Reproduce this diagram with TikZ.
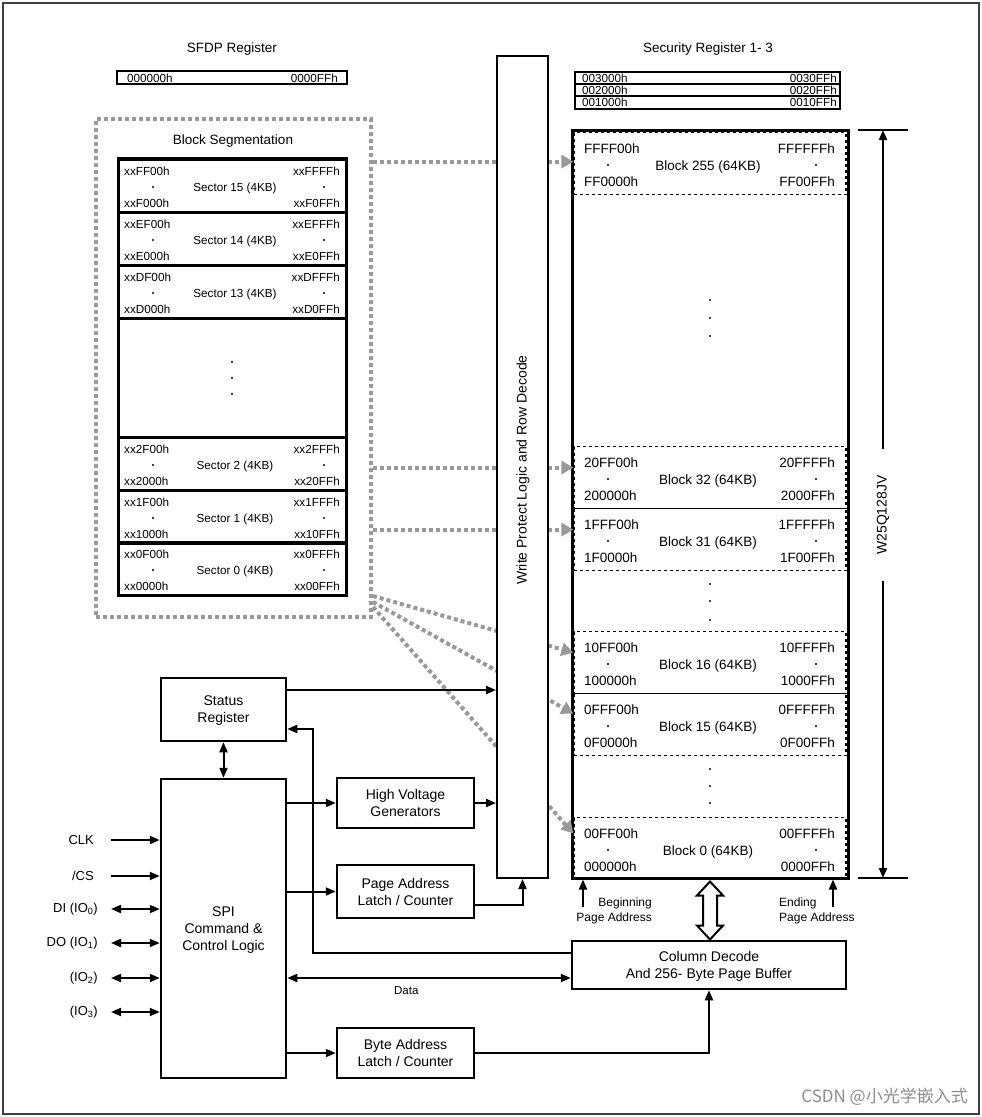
\documentclass[tikz,border=0pt]{standalone}
\usepackage{fontspec}
\setmainfont{Liberation Sans}
\newfontfamily\cjkfont{Noto Sans CJK SC}
\usetikzlibrary{arrows.meta, positioning}

\tikzset{
	unit/.style={draw, line width=2.5pt, align=center, inner sep=0pt, text depth=0pt, font=\fontsize{14}{17}\selectfont},
	row/.style={draw, line width=2.5pt, inner sep=0pt},
	blockrow/.style={draw, dashed, line width=1.2pt, inner sep=0pt},
	sig/.style={line width=2pt, -{Triangle[length=10pt,width=8pt]}},
	dsig/.style={line width=2pt, {Triangle[length=10pt,width=8pt]}-{Triangle[length=10pt,width=8pt]}},
	seg/.style={draw=black!40, line width=4pt, dash pattern=on 4pt off 3pt, inner sep=0pt},
	segarr/.style={black!40, line width=4pt, dash pattern=on 4pt off 3pt, -{Triangle[length=12pt,width=13pt]}},
	title/.style={font=\fontsize{13.5}{16}\selectfont},
	saddr/.style={font=\fontsize{11.7}{13}\selectfont, inner sep=0pt},
	baddr/.style={font=\fontsize{13.5}{15}\selectfont, inner sep=0pt},
	pin/.style={font=\fontsize{13}{15}\selectfont, anchor=east, inner sep=0pt},
}

\begin{document}
\begin{tikzpicture}[x=1pt, y=-1pt]
	\useasboundingbox (0,0) rectangle (982,1117);
	\draw[black!75, line width=1.2pt] (3,3) rectangle (979,1114);

	% Registers:
	\node[title] (sfdpt) at (232,49) {SFDP Register};
	\node[row, minimum width=230pt, minimum height=13pt] (sfdp) at (232,77.5) {};
	\node[saddr, anchor=west] (sfdplo) at (127,78) {000000h};
	\node[saddr, anchor=east] (sfdphi) at (338,78) {0000FFh};
	\node[title] (scrt) at (708,49) {Security Register 1- 3};
	\foreach \y/\lo/\hi [count=\i] in {78/003000h/0030FFh, 90/002000h/0020FFh, 102.5/001000h/0010FFh}{
		\node[row, line width=2pt, minimum width=265pt, minimum height=12.3pt] (scr\i) at (707.5,\y) {};
		\node[saddr, anchor=west] at (582,\y) {\lo};
		\node[saddr, anchor=east] at (837,\y) {\hi};
	}

	% Block segmentation:
	\node[seg, minimum width=275pt, minimum height=498pt] (blkseg) at (233.5,368) {};
	\node[title] (blksegt) at (233,141) {Block Segmentation};
	\foreach \t/\secno/\tl/\bl/\tr/\br in {158/15/xxFF00h/xxF000h/xxFFFFh/xxF0FFh, 211/14/xxEF00h/xxE000h/xxEFFFh/xxE0FFh, 264/13/xxDF00h/xxD000h/xxDFFFh/xxD0FFh, 436/2/xx2F00h/xx2000h/xx2FFFh/xx20FFh, 489/1/xx1F00h/xx1000h/xx1FFFh/xx10FFh, 541/0/xx0F00h/xx0000h/xx0FFFh/xx00FFh}{
		\node[row, minimum width=228pt, minimum height=53pt, anchor=north] (sec\secno) at (232,\t) {};
		\node[saddr, anchor=west] at (124,\t+13) {\tl};
		\node[saddr, anchor=west] at (124,\t+45) {\bl};
		\node[saddr] at (235,\t+30) {Sector \secno\ (4KB)};
		\node[saddr, anchor=east] at (340,\t+13) {\tr};
		\node[saddr, anchor=east] at (340,\t+45) {\br};
		\fill (153,\t+29) circle (1.1pt) (324,\t+29) circle (1.1pt);
	}
	\node[row, line width=3pt, minimum width=228pt, minimum height=437pt] (secstack) at (232,376.5) {};
	\foreach \y in {362,378,394} \fill (232,\y) circle (1.1pt);

	% Memory array:
	\foreach \t/\b/\tl/\bl/\tr/\br in {132/255/FFFF00h/FF0000h/FFFFFFh/FF00FFh, 446/32/20FF00h/200000h/20FFFFh/2000FFh, 508/31/1FFF00h/1F0000h/1FFFFFh/1F00FFh, 631/16/10FF00h/100000h/10FFFFh/1000FFh, 693/15/0FFF00h/0F0000h/0FFFFFh/0F00FFh, 817/0/00FF00h/000000h/00FFFFh/0000FFh}{
		\node[blockrow, minimum width=272pt, minimum height=62pt, anchor=north] (blk\b) at (710,\t) {};
		\node[baddr, anchor=west] at (584,\t+17) {\tl};
		\node[baddr, anchor=west] at (584,\t+50) {\bl};
		\node[baddr] at (708,\t+35) {Block \b\ (64KB)};
		\node[baddr, anchor=east] at (835,\t+17) {\tr};
		\node[baddr, anchor=east] at (835,\t+50) {\br};
		\fill (608,\t+33) circle (1.1pt) (816,\t+33) circle (1.1pt);
	}
	\node[row, line width=3pt, minimum width=276pt, minimum height=748pt] (mem) at (710,504) {};
	\foreach \y in {300,318,336,584,601,620,769,786,803} \fill (710,\y) circle (1.1pt);

	% Segment links:
	\foreach \b/\s in {255/2, 32/10, 31/10}
		\draw[segarr] ([yshift=\s pt]blk\b.west -| blkseg.east) -- ([yshift=\s pt]blk\b.west);
	\foreach \b/\f/\s in {16/23/10, 15/17/11, 0/12/15}
		\draw[segarr] ([yshift=\f pt]blkseg.south east) -- ([yshift=\s pt]blk\b.west);

	\node[draw, fill=white, line width=2pt, inner sep=0pt, minimum width=51pt, minimum height=822pt] (wp) at (522.5,467) {};
	\node[rotate=90, font=\fontsize{14}{16}\selectfont] (wptxt) at (523,470) {Write Protect Logic and Row Decode};

	% Logic blocks:
	\node[unit, minimum width=125pt, minimum height=63pt] (sr) at (223.5,709.5) {Status\\Register};
	\node[unit, minimum width=125pt, minimum height=299pt] (spi) at (223.5,928.5) {SPI\\Command \&\\Control Logic};
	\node[unit, minimum width=137pt, minimum height=50pt] (hv) at (405.5,803) {High Voltage\\Generators};
	\node[unit, minimum width=137pt, minimum height=53pt] (pa) at (405.5,891.5) {Page Address\\Latch / Counter};
	\node[unit, minimum width=137pt, minimum height=50pt] (ba) at (405.5,1053) {Byte Address\\Latch / Counter};
	\node[unit, minimum width=274pt, minimum height=48pt] (cd) at (709,965) {Column Decode\\And 256- Byte Page Buffer};

	\draw[sig] ([yshift=19.5pt]sr.east) -- ([yshift=19.5pt]sr.east -| wp.west);
	\draw[dsig] (sr.south) -- (spi.north);
	\draw[sig] (hv.west -| spi.east) -- (hv.west);
	\draw[sig] (hv.east) -- (hv.east -| wp.west);
	\draw[sig] (pa.west -| spi.east) -- (pa.west);
	\draw[sig] ([yshift=-13.5pt]pa.east) -| (wp.south);
	\coordinate (fb) at (313,729);
	\draw[sig] ([yshift=12pt]cd.west) -| (fb) -- (fb -| sr.east);
	\draw[dsig] ([yshift=-13pt]cd.west -| spi.east) -- node[pos=0.42, below=4pt, font=\fontsize{11.5}{13}\selectfont] (datalbl) {Data} ([yshift=-13pt]cd.west);
	\draw[sig] (ba.west -| spi.east) -- (ba.west);
	\draw[sig] (ba.east) -| (cd.south);
	\draw[line width=2pt, fill=white] ([yshift=-2pt]mem.south) -- ++(13,14) -- ++(-6,0) -- ++(0,30) -- ++(6,0) -- ++(-13,14) -- ++(-13,-14) -- ++(6,0) -- ++(0,-30) -- ++(-6,0) -- cycle;

	% Page address marks:
	\node[font=\fontsize{12}{15}\selectfont, align=right, anchor=north east, inner sep=0pt] (bpa) at (652,898) {Beginning\\Page Address};
	\node[font=\fontsize{12}{15}\selectfont, align=left, anchor=north west, inner sep=0pt] (epa) at (779,898) {Ending\\Page Address};
	\coordinate (bpa0) at (583,907);
	\coordinate (epa0) at (833,907);
	\draw[sig] (bpa0) -- (bpa0 |- mem.south);
	\draw[sig] (epa0) -- (epa0 |- mem.south);

	% Device size:
	\draw[line width=2pt] (858,130) -- (908,130) (858,878) -- (908,878);
	\coordinate (dimtop) at (883,130);
	\coordinate (dimbot) at (883,878);
	\node[rotate=90, font=\fontsize{14}{16}\selectfont, inner xsep=26pt, inner ysep=0pt] (dim) at (883,515) {W25Q128JV};
	\draw[sig] (dim.east) -- (dimtop);
	\draw[sig] (dim.west) -- (dimbot);

	% Pins:
	\node[pin] (clk) at (94,840) {CLK};
	\node[pin] (cs) at (94,876) {/CS};
	\node[pin] (io0) at (98,909) {DI (IO\textsubscript{0})};
	\node[pin] (io1) at (98,943) {DO (IO\textsubscript{1})};
	\node[pin] (io2) at (98,978) {(IO\textsubscript{2})};
	\node[pin] (io3) at (98,1012) {(IO\textsubscript{3})};
	\draw[sig] ([xshift=17pt]clk.east) -- (clk -| spi.west);
	\draw[sig] ([xshift=17pt]cs.east) -- (cs -| spi.west);
	\foreach \p in {io0,io1,io2,io3}
		\draw[dsig] ([xshift=13pt]\p.east) -- (\p -| spi.west);

	\node[font=\cjkfont\fontsize{17}{20}\selectfont, text=black!45, anchor=east, inner sep=0pt] (wm) at (968,1097) {CSDN @小光学嵌入式};
\end{tikzpicture}
\end{document}
